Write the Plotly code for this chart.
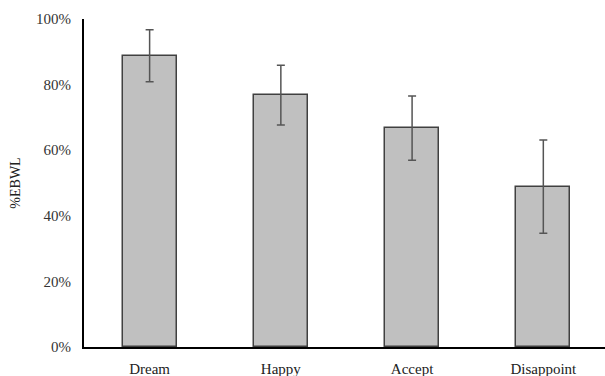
import plotly.graph_objects as go

categories = ["Dream", "Happy", "Accept", "Disappoint"]
values = [0.888, 0.768, 0.667, 0.489]
errors = [0.079, 0.091, 0.098, 0.142]
y_ticks = [0, 0.2, 0.4, 0.6, 0.8, 1.0]

fig = go.Figure(go.Bar(
    x=categories, y=values,
    width=0.41,
    marker=dict(color="#c0c0c0", line=dict(color="#404040", width=1.5)),
    error_y=dict(type="data", array=errors, visible=True, color="#555555", thickness=1.5, width=4),
))

font_family = "Liberation Serif, Times New Roman, serif"
fig.update_layout(
    width=605, height=376,
    margin=dict(l=84, r=0, t=19, b=29),
    plot_bgcolor="white", paper_bgcolor="white",
    showlegend=False,
    font=dict(family=font_family, size=15, color="#333333"),
    bargap=0,
)
fig.update_xaxes(
    type="category", range=[-0.5, 3.47],
    showline=True, linecolor="#000000", linewidth=2,
    showgrid=False, ticks="", ticklabelstandoff=7,
    tickfont=dict(family=font_family, size=15, color="#222222"),
    automargin=False,
)
fig.update_yaxes(
    range=[0, 1], tickvals=y_ticks, tickformat=".0%",
    showline=True, linecolor="#000000", linewidth=2,
    showgrid=False, zeroline=False, ticks="", ticklabelstandoff=8,
    tickfont=dict(family=font_family, size=15, color="#333333"),
    title=dict(text="%EBWL", font=dict(family=font_family, size=14, color="#222222"), standoff=12),
    automargin=False,
)

fig.write_html(
    "out.html",
    config={"displayModeBar": False},
    post_script="document.body.style.margin='0';document.body.style.overflow='hidden';",
)
